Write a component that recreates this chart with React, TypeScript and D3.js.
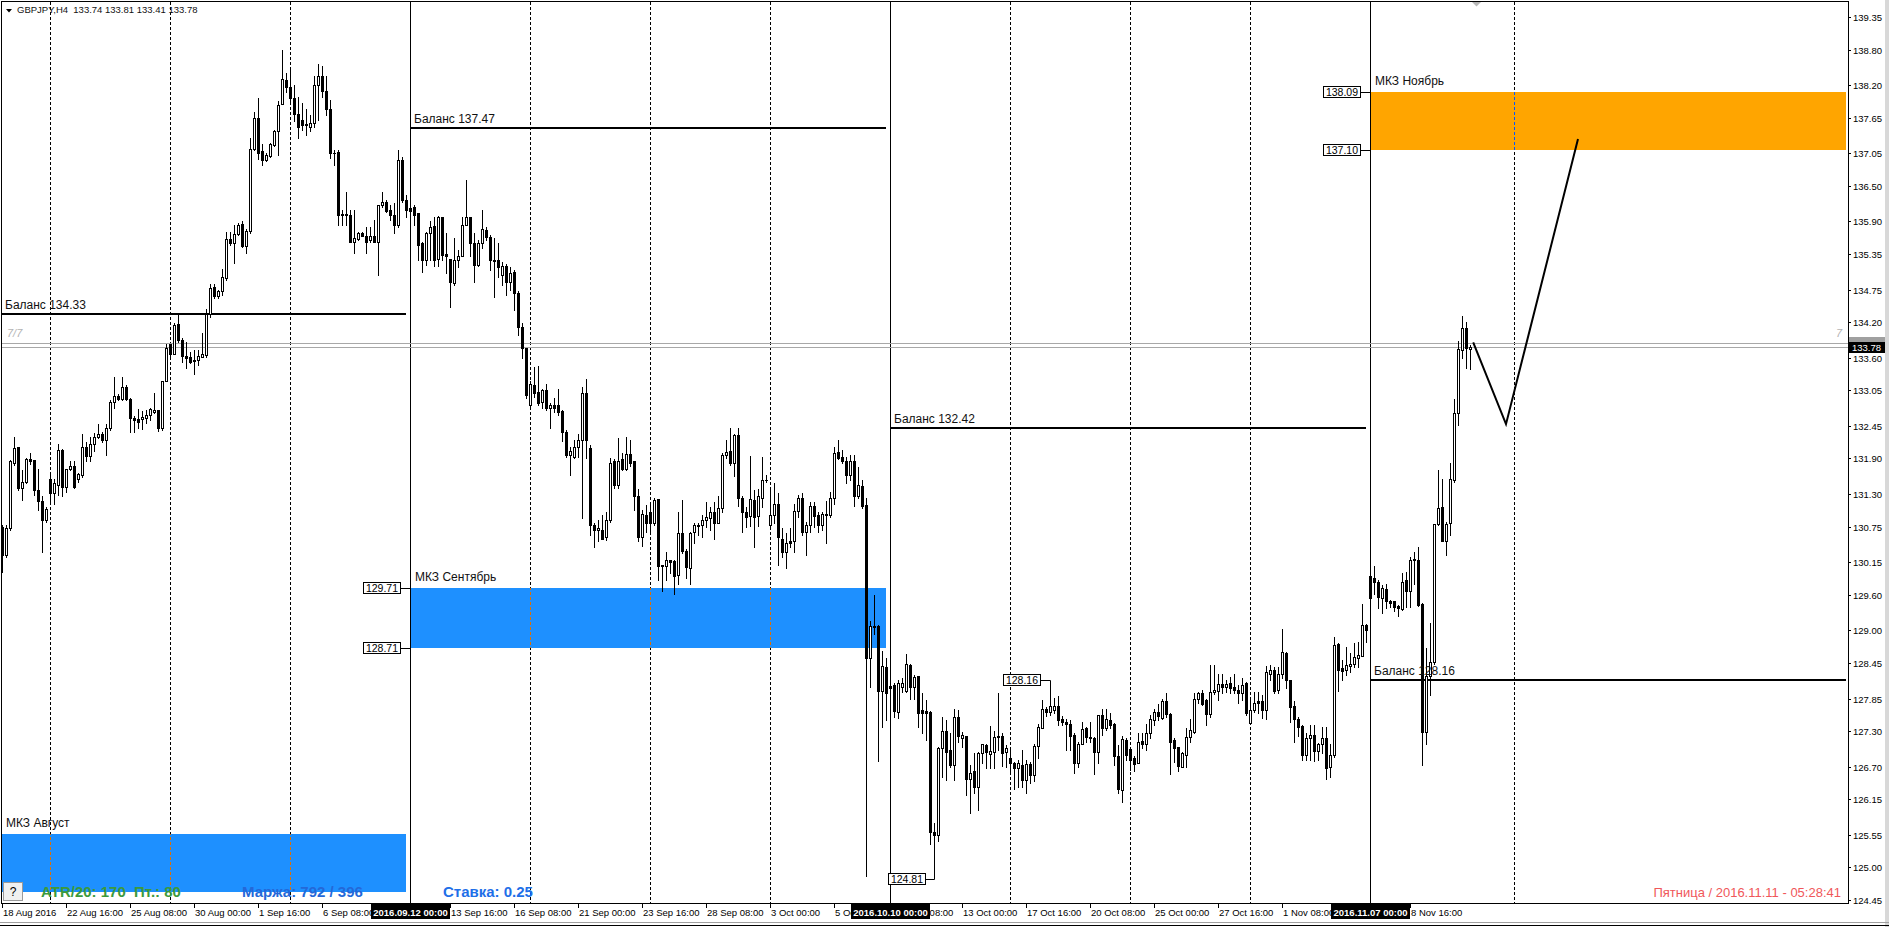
import React from 'react';
import * as d3 from 'd3';

const W = 1889, H = 927;
const PL = 1, PT = 2, PR = 1848, PB = 903;
const FONT = '"Liberation Sans", Arial, sans-serif';

// GBPJPY H4 candles, bar 0 = 18 Aug 2016 00:00
const opens = [
130.75,130.27,130.72,131.82,132.09,131.40,131.51,131.89,131.87,131.37,
131.18,130.86,131.56,131.31,131.45,132.05,131.42,131.72,131.77,131.55,
131.62,132.09,131.94,132.14,132.26,132.31,132.22,132.41,132.86,132.95,
132.90,133.11,132.90,132.58,132.56,132.56,132.58,132.63,132.68,132.72,
132.41,133.20,133.84,133.67,134.17,133.90,133.63,133.61,133.57,133.57,
133.62,133.65,134.34,134.79,134.64,134.72,134.94,135.60,135.53,135.69,
135.86,135.49,135.74,137.13,137.64,137.09,136.94,137.00,137.19,137.43,
137.88,138.29,138.17,137.98,137.72,137.62,137.53,137.50,137.56,138.20,
138.35,138.10,137.80,137.05,137.08,136.01,136.02,136.01,135.56,135.60,
135.70,135.66,135.59,135.66,135.56,136.18,136.23,136.09,136.01,135.84,
136.94,136.26,136.12,136.14,136.04,135.53,135.25,135.71,135.82,135.26,
135.97,135.35,135.26,134.86,135.25,135.32,135.84,135.97,135.53,135.16,
135.53,135.76,135.64,135.25,135.25,135.00,135.15,134.87,135.04,134.70,
134.12,133.76,132.81,133.14,133.03,132.86,133.05,132.75,132.80,132.80,
132.70,132.35,131.96,131.93,132.10,132.22,133.01,132.07,130.78,130.69,
130.70,130.57,130.86,131.86,131.45,131.89,131.72,131.98,131.86,131.27,
130.58,130.95,130.99,130.82,131.22,130.10,130.09,130.19,130.17,129.93,
130.64,130.34,130.06,130.66,130.76,130.78,130.86,130.89,131.00,130.82,
131.06,131.96,132.03,131.82,132.30,131.23,131.00,130.93,131.20,130.93,
131.24,131.54,130.78,130.95,131.13,130.55,130.33,130.50,130.50,131.02,
131.23,130.66,130.78,131.10,130.95,130.78,130.96,130.95,131.23,132.01,
131.92,131.86,131.62,131.86,131.26,131.43,131.11,128.54,129.07,129.07,
127.98,128.39,128.06,128.08,127.63,128.05,127.97,128.42,128.05,128.23,
127.66,127.64,127.62,125.60,125.55,127.01,127.30,126.98,126.73,127.54,
127.19,127.22,126.50,126.63,126.36,126.93,127.07,126.92,126.95,127.20,
127.21,126.94,126.84,126.76,126.67,126.73,126.47,126.74,126.56,127.05,
127.35,127.68,127.63,127.65,127.72,127.51,127.46,127.42,127.23,126.76,
127.09,127.35,127.20,127.18,126.94,127.57,127.35,127.49,127.42,126.88,
126.31,127.15,126.99,126.84,126.77,127.14,127.08,127.26,127.49,127.63,
127.52,127.80,127.59,127.15,127.03,126.70,126.90,127.20,127.29,127.84,
127.94,127.82,127.59,127.96,127.98,128.10,128.04,128.12,128.05,127.99,
127.94,128.12,127.43,127.66,127.80,127.80,127.65,128.27,128.33,127.99,
128.26,128.62,128.16,127.72,127.51,127.39,126.90,127.18,127.23,126.97,
127.08,127.18,126.69,126.90,128.77,128.36,128.33,128.40,128.44,128.54,
128.57,129.09,129.91,129.89,129.81,129.54,129.69,129.50,129.49,129.41,
129.36,129.85,129.67,130.19,130.19,129.45,127.29,128.23,128.47,130.80,
131.08,130.51,130.82,131.54,132.67,133.73,134.10,133.74];

const highs = [
130.78,130.78,131.87,132.26,132.10,131.71,131.90,132.00,131.87,131.72,
131.27,131.09,131.62,131.56,132.14,132.06,131.73,131.85,131.85,131.65,
132.31,132.18,132.26,132.33,132.48,132.35,132.49,132.89,133.28,132.99,
133.27,133.14,132.92,132.62,132.74,132.70,132.72,132.75,133.00,132.72,
133.20,133.84,133.84,134.19,134.36,133.93,133.87,133.69,133.73,133.73,
134.02,134.42,134.85,134.85,134.75,135.09,135.73,135.73,135.84,135.88,
135.90,135.78,137.30,137.75,137.99,137.21,137.05,137.22,137.45,137.93,
138.80,138.40,138.47,138.20,138.00,137.90,137.80,137.70,138.35,138.55,
138.52,138.35,137.95,137.11,137.10,136.09,136.40,136.09,136.09,135.73,
135.73,135.81,135.81,135.93,136.18,136.40,136.26,136.18,136.21,137.11,
136.99,136.35,136.21,136.18,136.04,135.56,135.73,135.90,135.98,135.99,
135.98,135.70,135.26,135.62,135.42,135.98,136.60,135.98,135.70,135.59,
136.10,135.80,135.67,135.62,135.54,135.22,135.18,135.13,135.08,134.72,
134.18,133.76,133.20,133.45,133.46,133.07,133.16,132.83,132.92,133.08,
132.72,132.38,132.10,132.21,132.32,133.11,133.24,132.13,130.81,130.86,
130.95,131.00,131.90,131.89,132.24,131.99,132.26,132.21,131.86,131.38,
131.03,131.11,131.11,131.23,131.22,130.10,130.33,130.19,130.19,131.00,
131.20,130.37,130.66,130.81,130.81,130.95,131.17,131.09,131.17,131.26,
131.99,132.22,132.41,132.32,132.41,131.26,131.09,131.94,131.37,131.38,
131.92,131.62,131.41,131.48,131.31,130.72,130.64,130.72,131.14,131.28,
131.32,130.83,131.17,131.17,131.00,131.00,131.19,131.34,132.10,132.21,
132.05,131.92,131.96,131.96,131.75,131.53,131.23,129.16,129.60,129.09,
128.66,128.53,128.20,128.11,128.16,128.19,128.60,128.43,128.25,128.23,
127.94,127.82,127.64,125.75,127.04,127.54,127.49,127.26,127.68,127.66,
127.29,127.22,126.73,126.93,126.95,127.09,127.09,127.39,127.31,127.94,
127.26,127.07,127.04,126.78,126.81,126.98,126.81,126.78,127.08,127.42,
127.82,127.71,127.76,127.86,127.89,127.56,127.50,127.49,127.26,127.12,
127.46,127.37,127.46,127.20,127.57,127.67,127.67,127.61,127.43,127.06,
127.21,127.18,127.01,126.88,127.26,127.26,127.42,127.57,127.68,127.76,
127.85,127.94,127.61,127.18,127.04,126.95,127.36,127.51,127.95,127.96,
127.99,127.85,128.41,128.41,128.26,128.26,128.17,128.22,128.26,128.08,
128.19,128.13,127.83,127.96,127.96,127.91,128.40,128.41,128.39,128.39,
129.02,128.64,128.17,127.80,127.54,127.40,127.26,127.40,127.40,127.10,
127.37,127.37,127.08,128.89,128.78,128.50,128.72,128.61,128.78,128.81,
129.44,129.11,129.93,130.09,129.85,129.76,129.79,129.51,129.50,129.43,
129.96,129.99,130.23,130.33,130.40,129.47,128.70,129.12,130.80,131.71,
131.55,130.83,131.83,132.91,133.89,134.30,134.21,133.81];

const lows = [
129.98,130.24,130.70,131.79,131.37,131.20,131.48,131.80,131.29,131.03,
130.33,130.83,131.13,131.14,131.28,131.26,131.34,131.71,131.40,131.51,
131.59,131.86,131.86,132.02,132.24,132.18,131.96,132.38,132.75,132.88,
132.89,132.88,132.35,132.35,132.41,132.39,132.50,132.55,132.66,132.37,
132.38,133.20,133.62,133.66,133.87,133.53,133.42,133.51,133.33,133.48,
133.61,133.62,134.29,134.60,134.60,134.66,134.91,135.50,135.20,135.67,
135.47,135.37,135.71,137.10,136.96,136.85,136.92,136.98,137.17,137.02,
137.88,138.09,137.90,137.60,137.30,137.45,137.36,137.42,137.50,137.61,
138.00,137.70,136.97,136.85,135.84,135.84,135.84,135.56,135.36,135.59,
135.66,135.36,135.56,135.56,134.99,136.15,136.06,135.93,135.70,135.81,
136.23,135.98,135.98,135.84,135.25,135.05,135.17,135.25,135.14,135.14,
135.25,135.03,134.45,134.83,135.13,135.31,135.84,135.31,134.88,135.14,
135.45,135.58,135.08,134.62,134.97,134.83,134.66,134.74,134.41,133.98,
133.59,132.92,132.77,132.94,132.80,132.75,132.72,132.41,132.69,132.63,
132.19,131.93,131.62,131.90,131.93,130.89,131.90,130.61,130.40,130.50,
130.54,130.52,130.83,131.40,131.40,131.70,131.71,131.77,131.03,130.50,
130.42,130.66,130.66,130.78,129.85,129.67,129.85,129.96,129.62,129.79,
130.30,129.89,129.78,130.47,130.61,130.58,130.75,130.69,130.55,130.81,
131.00,131.90,131.79,131.60,131.10,130.66,130.75,130.76,130.40,130.76,
131.09,131.51,130.75,130.81,130.10,130.24,130.06,130.41,130.33,130.92,
130.61,130.27,130.66,130.75,130.66,130.69,130.48,130.92,131.14,131.89,
131.82,131.48,131.53,131.10,131.23,131.06,124.85,128.05,128.94,126.80,
127.37,127.49,127.90,127.54,127.52,127.96,127.96,127.85,127.85,127.37,
127.26,127.15,125.40,125.34,125.45,126.53,126.47,126.70,126.47,127.12,
127.04,126.22,125.91,126.25,125.97,126.76,126.67,126.67,126.67,126.98,
126.71,126.70,126.59,126.33,126.36,126.36,126.25,126.42,126.45,126.84,
127.35,127.55,127.57,127.60,127.40,127.40,126.98,126.98,126.59,126.70,
127.09,127.12,127.11,126.58,126.76,127.23,127.32,127.35,126.73,126.25,
126.11,126.81,126.64,126.62,126.76,127.01,126.98,127.19,127.40,127.49,
127.50,127.53,126.58,126.78,126.62,126.69,126.70,127.12,127.26,127.78,
127.74,127.40,127.54,127.93,127.83,127.94,127.96,127.94,127.94,127.77,
127.83,127.57,127.42,127.63,127.60,127.52,127.50,128.16,127.94,127.94,
128.19,128.02,127.46,127.12,127.21,126.81,126.81,126.81,126.80,126.81,
126.93,126.49,126.53,126.87,127.98,128.16,128.25,128.30,128.38,128.39,
128.56,128.81,129.51,129.62,129.37,129.30,129.37,129.40,129.32,129.24,
129.34,129.40,129.40,129.79,129.41,126.73,127.09,127.91,128.44,130.78,
130.50,130.27,130.61,131.51,132.47,133.59,133.43,133.41];

const closes = [
130.27,130.72,131.85,132.07,131.40,131.51,131.89,131.85,131.37,131.18,
130.86,131.04,131.31,131.48,132.05,131.42,131.72,131.77,131.42,131.64,
132.09,131.94,132.14,132.26,132.31,132.22,132.41,132.86,132.95,132.90,
133.11,132.90,132.58,132.55,132.52,132.60,132.63,132.73,132.72,132.41,
133.20,133.76,133.67,134.15,133.90,133.63,133.59,133.53,133.55,133.63,
133.66,134.34,134.77,134.64,134.73,134.96,135.60,135.53,135.69,135.84,
135.49,135.74,137.13,137.64,137.06,136.93,137.02,137.21,137.43,137.87,
138.30,138.17,137.98,137.72,137.50,137.53,137.55,137.56,138.20,138.35,
138.10,137.80,137.05,137.06,136.01,136.02,136.01,135.56,135.62,135.70,
135.66,135.56,135.66,135.56,136.18,136.23,136.07,136.01,135.84,136.94,
136.26,136.10,136.07,136.01,135.50,135.25,135.71,135.80,135.25,135.98,
135.33,135.31,134.87,135.25,135.32,135.84,135.97,135.53,135.17,135.54,
135.77,135.63,135.25,135.24,135.13,135.15,134.87,135.03,134.69,134.12,
133.76,132.97,133.16,133.00,132.83,133.05,132.75,132.80,132.75,132.69,
132.35,131.96,132.02,132.10,132.21,133.01,132.22,130.78,130.69,130.72,
130.55,130.87,131.83,131.45,131.86,131.72,131.98,131.83,131.27,130.57,
130.96,130.82,130.82,131.20,130.09,130.08,130.19,130.16,129.92,130.65,
130.34,130.07,130.65,130.78,130.78,130.87,130.92,131.00,130.82,131.06,
131.96,132.01,131.82,132.30,131.23,131.00,130.92,131.21,130.92,131.27,
131.54,131.54,130.95,131.14,130.57,130.33,130.48,130.47,131.01,131.23,
130.66,130.78,131.10,130.93,130.78,130.96,130.95,131.23,131.99,131.90,
131.85,131.62,131.86,131.26,131.45,131.10,128.54,129.07,129.06,127.98,
128.40,127.95,128.02,127.64,128.11,128.11,128.43,128.05,128.22,127.60,
127.61,127.60,125.60,125.55,127.01,127.30,126.95,126.73,127.54,127.21,
127.24,126.50,126.60,126.36,126.93,127.08,126.95,126.96,127.20,127.21,
126.93,127.02,126.76,126.67,126.76,126.47,126.74,126.56,127.05,127.37,
127.67,127.63,127.72,127.72,127.49,127.46,127.42,127.22,126.76,127.09,
127.33,127.20,127.18,126.94,127.57,127.35,127.50,127.40,126.88,126.32,
127.16,126.90,126.82,126.75,127.12,127.08,127.26,127.50,127.63,127.55,
127.80,127.59,127.12,127.01,126.71,126.93,127.20,127.32,127.84,127.95,
127.76,127.59,127.96,128.00,128.09,128.04,128.10,128.02,127.99,127.94,
128.08,127.60,127.66,127.78,127.77,127.66,128.30,128.33,127.98,128.26,
128.64,128.17,127.71,127.50,127.37,126.90,127.18,127.23,126.97,127.08,
127.18,126.67,126.90,128.75,128.33,128.32,128.42,128.44,128.55,128.58,
129.09,129.00,129.54,129.82,129.56,129.71,129.49,129.47,129.40,129.37,
129.82,129.67,130.19,130.20,129.43,127.29,128.23,128.47,130.80,131.06,
130.51,130.80,131.55,132.67,133.74,134.10,133.76,133.78];

const priceTicks = ["139.35","138.80","138.20","137.65","137.05","136.50","135.90","135.35","134.75","134.20","133.60","133.05","132.45","131.90","131.30","130.75","130.15","129.60","129.00","128.45","127.85","127.30","126.70","126.15","125.55","125.00","124.45"];

// time-axis labels every 16 bars; the ones fully covered by the period boxes are not shown
const timeTickBars = [0,16,32,48,64,80,112,128,144,160,176,192,208,224,240,256,272,288,304,320,352];
const timeTickLabels = ["18 Aug 2016","22 Aug 16:00","25 Aug 08:00","30 Aug 00:00","1 Sep 16:00","6 Sep 08:00","13 Sep 16:00","16 Sep 08:00","21 Sep 00:00","23 Sep 16:00","28 Sep 08:00","3 Oct 00:00","5 Oct 16:00","10 Oct 08:00","13 Oct 00:00","17 Oct 16:00","20 Oct 08:00","25 Oct 00:00","27 Oct 16:00","1 Nov 08:00","8 Nov 16:00"];

const periodLineBars = [102, 222, 342];
const periodLineLabels = ["2016.09.12 00:00", "2016.10.10 00:00", "2016.11.07 00:00"];
const weekSeparatorBars = [12, 42, 72, 132, 162, 192, 252, 282, 312, 378];

const periodStartBars = [-18, 102, 222, 342];
const periodEndBars = [101, 221, 341, 461];
const balanceValues = [134.33, 137.47, 132.42, 128.16];

const zonePeriods = [0, 1, 3];
const zoneNames = ["МКЗ Август", "МКЗ Сентябрь", "МКЗ Ноябрь"];
const zoneHigh = [125.56, 129.71, 138.09];
const zoneLow = [124.59, 128.71, 137.10];
const zoneShowPrices = [false, true, true];
const zoneColors = ["#1E90FF", "#1E90FF", "#FFA500"];
const zoneInverse = ["#E16F00", "#E16F00", "#005AFF"];

const zigBars = [367.8, 376, 394];
const zigPrices = [133.86, 132.48, 137.29];

const bidPrice = 133.78;
const askPrice = 133.85;

const x = d3.scaleLinear().domain([0, 1]).range([2, 6]);
const y = d3.scaleLinear().domain([124.45, 139.35]).range([900, 17]);

const px = (i: number) => Math.round(x(i));
const py = (p: number) => Math.round(y(p));

const BOX_W = 79;

function PriceBox({ right, price, text }: { right: number; price: number; text: string }) {
  const cy = y(price);
  const w = 37, h = 12;
  return (
    <g>
      <rect x={right - w + 0.5} y={Math.round(cy - h / 2) + 0.5} width={w} height={h - 1} fill="#fff" stroke="#000" strokeWidth={1} />
      <text x={right - w / 2 + 0.5} y={Math.round(cy) + 4} textAnchor="middle" fontSize={10.5} fontFamily={FONT} fill="#000">{text}</text>
    </g>
  );
}

export default function App() {
  const candles = opens.map((o, i) => {
    const c = closes[i];
    const h = Math.max(highs[i], o, c);
    const l = Math.min(lows[i], o, c);
    const cx = px(i);
    const yo = py(o), yc = py(c);
    const top = Math.min(yo, yc), bot = Math.max(yo, yc);
    const bull = c >= o;
    return (
      <g key={i}>
        <line x1={cx + 0.5} x2={cx + 0.5} y1={py(h)} y2={py(l) + 1} stroke="#000" strokeWidth={1} />
        {bot - top < 1 ? (
          <line x1={cx - 1} x2={cx + 2} y1={top + 0.5} y2={top + 0.5} stroke="#000" strokeWidth={1} />
        ) : (
          <rect x={cx - 0.5} y={top + 0.5} width={2} height={bot - top} fill={bull ? '#fff' : '#000'} stroke="#000" strokeWidth={1} />
        )}
      </g>
    );
  });

  const zones = zonePeriods.map((p, k) => {
    const x1 = Math.max(PL, px(periodStartBars[p]) + 1);
    const x2 = Math.min(PR, px(periodEndBars[p]));
    const y1 = py(zoneHigh[k]);
    const y2 = Math.min(PB, py(zoneLow[k]));
    return { k, p, x1, x2, y1, y2 };
  });

  const zig = d3.line<number>().x((_, i) => x(zigBars[i])).y((p) => y(p))(zigPrices) || '';

  const bottomY = 915.5;

  // clip for time labels: everything except the period-label boxes
  const boxRanges = periodLineBars.map((b) => [px(b) - 39, px(b) - 39 + BOX_W]);
  const clipRects: number[][] = [];
  let cur = 0;
  boxRanges.forEach(([a, b]) => { clipRects.push([cur, a]); cur = b; });
  clipRects.push([cur, W]);

  return (
    <svg width={W} height={H} style={{ position: 'absolute', left: 0, top: 0, display: 'block' }} xmlns="http://www.w3.org/2000/svg">
      <rect x={0} y={0} width={W} height={H} fill="#fff" />
      <defs>
        <clipPath id="plot"><rect x={PL} y={PT} width={PR - PL} height={PB - PT} /></clipPath>
        <clipPath id="tlabels">
          {clipRects.map(([a, b], i) => <rect key={i} x={a} y={PB} width={b - a} height={20} />)}
        </clipPath>
      </defs>

      <g clipPath="url(#plot)">
        {zones.map((z) => (
          <rect key={'z' + z.k} x={z.x1} y={z.y1} width={z.x2 - z.x1} height={z.y2 - z.y1} fill={zoneColors[z.k]} />
        ))}

        <g shapeRendering="crispEdges">
          {weekSeparatorBars.map((b) => (
            <line key={'w' + b} x1={px(b) + 0.5} x2={px(b) + 0.5} y1={PT} y2={PB} stroke="#000" strokeWidth={1} strokeDasharray="3,2" />
          ))}
          {zones.map((z) =>
            weekSeparatorBars
              .filter((b) => px(b) > z.x1 && px(b) < z.x2)
              .map((b) => (
                <line key={'inv' + z.k + '_' + b} x1={px(b) + 0.5} x2={px(b) + 0.5} y1={z.y1} y2={z.y2} stroke={zoneInverse[z.k]} strokeWidth={1} strokeDasharray="3,2" strokeDashoffset={z.y1 - PT} />
              ))
          )}
          {periodLineBars.map((b) => (
            <line key={'p' + b} x1={px(b) + 0.5} x2={px(b) + 0.5} y1={PT} y2={PB} stroke="#000" strokeWidth={1} />
          ))}
        </g>

        <line x1={PL} x2={PR} y1={py(askPrice) + 0.5} y2={py(askPrice) + 0.5} stroke="#a8a8a8" strokeWidth={1} />
        <line x1={PL} x2={PR} y1={py(bidPrice) + 0.5} y2={py(bidPrice) + 0.5} stroke="#a8a8a8" strokeWidth={1} />

        {balanceValues.map((v, p) => {
          const x1 = Math.max(PL, px(periodStartBars[p]) + 1);
          const x2 = Math.min(PR, px(periodEndBars[p]));
          return <line key={'b' + p} x1={x1} x2={x2} y1={py(v)} y2={py(v)} stroke="#000" strokeWidth={2} />;
        })}

        <g shapeRendering="crispEdges">{candles}</g>

        <path d={zig} fill="none" stroke="#000" strokeWidth={2} />

        {balanceValues.map((v, p) => (
          <text key={'bt' + p} x={Math.max(PL + 4, px(periodStartBars[p]) + 4)} y={py(v) - 5} fontSize={12} fontFamily={FONT} fill="#111">
            {'Баланс ' + v.toFixed(2)}
          </text>
        ))}

        {zones.map((z) => (
          <text key={'zt' + z.k} x={Math.max(PL + 5, z.x1 + 4)} y={z.y1 - 7} fontSize={12} fontFamily={FONT} fill="#111">
            {zoneNames[z.k]}
          </text>
        ))}

        <text x={7} y={337} fontSize={11} fontStyle="italic" fontFamily={FONT} fill="#b4b4b4">7/7</text>
        <text x={1836} y={337} fontSize={11} fontStyle="italic" fontFamily={FONT} fill="#b4b4b4">7</text>
      </g>

      {zones.filter((z) => zoneShowPrices[z.k]).map((z) => {
        const lx = px(periodStartBars[z.p]);
        return (
          <g key={'zp' + z.k}>
            <line x1={lx - 10} x2={lx} y1={py(zoneHigh[z.k]) + 0.5} y2={py(zoneHigh[z.k]) + 0.5} stroke="#000" />
            <line x1={lx - 10} x2={lx} y1={py(zoneLow[z.k]) + 0.5} y2={py(zoneLow[z.k]) + 0.5} stroke="#000" />
            <PriceBox right={lx - 10} price={zoneHigh[z.k]} text={zoneHigh[z.k].toFixed(2)} />
            <PriceBox right={lx - 10} price={zoneLow[z.k]} text={zoneLow[z.k].toFixed(2)} />
          </g>
        );
      })}

      <path d={`M${px(262) - 10},${py(128.16) + 0.5} H${px(262) + 0.5} V${py(highs[262])}`} fill="none" stroke="#000" />
      <PriceBox right={px(262) - 10} price={128.16} text="128.16" />
      <path d={`M${px(233) - 9},${py(124.81) + 0.5} H${px(233) + 0.5} V${py(lows[233])}`} fill="none" stroke="#000" />
      <PriceBox right={px(233) - 9} price={124.81} text="124.81" />

      <path d="M1472,2 L1481,2 L1476.5,6.5 Z" fill="#b8b8b8" />

      <path d="M6,9 L12,9 L9,12.5 Z" fill="#000" />
      <text x={17} y={13} fontSize={9.5} fontFamily={FONT} fill="#111" style={{ whiteSpace: 'pre' }}>{'GBPJPY,H4  133.74 133.81 133.41 133.78'}</text>

      <rect x={PL + 0.5} y={PT - 0.5} width={PR - PL} height={PB - PT + 0.5} fill="none" stroke="#000" strokeWidth={1} shapeRendering="crispEdges" />

      <g shapeRendering="crispEdges">
        {priceTicks.map((t) => (
          <line key={'pt' + t} x1={PR} x2={PR + 3} y1={py(+t) + 0.5} y2={py(+t) + 0.5} stroke="#000" />
        ))}
      </g>
      {priceTicks.map((t) => (
        <text key={'ptl' + t} x={PR + 5} y={py(+t) + 3.5} fontSize={9.5} fontFamily={FONT} fill="#000">{t}</text>
      ))}
      <rect x={PR + 1} y={py(askPrice) - 6} width={36} height={7} fill="#a0a0a0" />
      <rect x={PR + 1} y={py(bidPrice) - 5} width={36} height={11} fill="#000" />
      <text x={PR + 4} y={py(bidPrice) + 3.5} fontSize={9.5} fontFamily={FONT} fill="#fff">{bidPrice.toFixed(2)}</text>

      <g shapeRendering="crispEdges">
        {timeTickBars.map((b) => (
          <line key={'tt' + b} x1={px(b) + 0.5} x2={px(b) + 0.5} y1={PB} y2={PB + 5} stroke="#000" />
        ))}
      </g>
      <g clipPath="url(#tlabels)">
        {timeTickBars.map((b, i) => (
          <text key={'ttl' + b} x={px(b) + 1} y={bottomY} fontSize={9.5} fontFamily={FONT} fill="#000">{timeTickLabels[i]}</text>
        ))}
      </g>
      {periodLineBars.map((b, i) => (
        <g key={'pl' + b}>
          <rect x={px(b) - 39} y={904} width={BOX_W} height={15} fill="#000" />
          <text x={px(b) + 0.5} y={bottomY} textAnchor="middle" fontSize={9.5} fontWeight="bold" fontFamily={FONT} fill="#fff">{periodLineLabels[i]}</text>
        </g>
      ))}

      <rect x={3.5} y={882.5} width={19} height={18} fill="#f0f0f0" stroke="#9a9a9a" />
      <text x={13} y={896} textAnchor="middle" fontSize={12} fontFamily={FONT} fill="#000">?</text>
      <text x={41} y={897} fontSize={15} fontWeight="bold" fontFamily={FONT} fill="#3c9a3c" style={{ whiteSpace: 'pre' }}>{'ATR/20: 170  Пт.: 80'}</text>
      <text x={242} y={897} fontSize={15} fontWeight="bold" fontFamily={FONT} fill="#2468d8">{'Маржа: 792 / 396'}</text>
      <text x={443} y={897} fontSize={15} fontWeight="bold" fontFamily={FONT} fill="#1f6fe8">{'Ставка: 0.25'}</text>
      <text x={1841} y={897} textAnchor="end" fontSize={13} fontFamily={FONT} fill="#f0575a">{'Пятница / 2016.11.11 - 05:28:41'}</text>

      <rect x={1885} y={0} width={4} height={H} fill="#d8d8d8" />
      <line x1={0} x2={W} y1={922.5} y2={922.5} stroke="#a0a0a0" />
      <line x1={0} x2={W} y1={925.5} y2={925.5} stroke="#000" />
    </svg>
  );
}
